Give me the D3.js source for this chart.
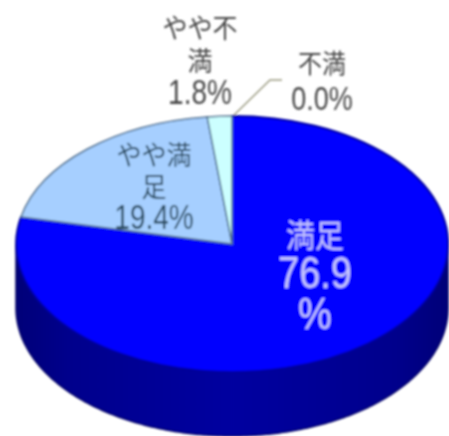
<!DOCTYPE html>
<html>
<head>
<meta charset="utf-8">
<script src="https://cdn.jsdelivr.net/npm/d3@7"></script>
<style>
  body { margin: 0; background: #fff; }
  svg { display: block; }
  text { font-family: "Liberation Sans", "Noto Sans CJK JP", sans-serif; text-anchor: middle; }
</style>
</head>
<body>
<div id="chart"></div>
<script>
// clockwise from 12 o'clock, same order as the picture
const categories = ["不満", "満足", "やや満足", "やや不満"];
const values = [0.0, 76.9, 19.4, 1.8];
const colors = ["#ffffff", "#0000ff", "#a6cfff", "#ccffff"];
const sideColors = ["#ffffff", "#00009c", "#6f8fc0", "#8fbfc0"];

// wrapped the way the picture wraps them
const labelLines = [
  ["不満", "0.0%"],
  ["満足", "76.9", "%"],
  ["やや満", "足", "19.4%"],
  ["やや不", "満", "1.8%"]
];

const w = 449;
const h = 436;
const cx = 232;
const cy = 244;
const rx = 216;
const ry = 128;
const depth = 64;

const svg = d3.select("#chart")
  .append("svg")
  .attr("width", w)
  .attr("height", h);

const defs = svg.append("defs");

// the reference is a soft, upscaled image
defs.append("filter")
  .attr("id", "soft")
  .attr("x", "-5%").attr("y", "-5%").attr("width", "110%").attr("height", "110%")
  .append("feGaussianBlur")
  .attr("stdDeviation", 1.1);

const sideGrad = defs.append("linearGradient")
  .attr("id", "sideGrad")
  .attr("x1", 0).attr("x2", 1).attr("y1", 0).attr("y2", 0);
sideGrad.append("stop").attr("offset", "0%").attr("stop-color", "#000078");
sideGrad.append("stop").attr("offset", "12%").attr("stop-color", "#00008c");
sideGrad.append("stop").attr("offset", "50%").attr("stop-color", "#0000a0");
sideGrad.append("stop").attr("offset", "88%").attr("stop-color", "#00008c");
sideGrad.append("stop").attr("offset", "100%").attr("stop-color", "#000078");

const g = svg.append("g").attr("filter", "url(#soft)");

const pie = d3.pie().sort(null).value(d => d);
const slices = pie(values);

// side wall, only the front half of the ellipse shows
const wall = d3.area()
  .x(a => cx + rx * Math.sin(a))
  .y0(a => cy - ry * Math.cos(a))
  .y1(a => cy - ry * Math.cos(a) + depth);

slices.forEach((s, i) => {
  const from = Math.max(s.startAngle, Math.PI / 2);
  const to = Math.min(s.endAngle, Math.PI * 1.5);
  if (to <= from) return;
  g.append("path")
    .attr("d", wall(d3.range(from, to, 0.01).concat([to])))
    .attr("fill", i === 1 ? "url(#sideGrad)" : sideColors[i])
    .attr("stroke", "#000068")
    .attr("stroke-width", 1.5);
});

// top face: unit arc squashed into the ellipse
const arc = d3.arc().innerRadius(0).outerRadius(1);

g.append("g")
  .attr("transform", `translate(${cx},${cy}) scale(${rx},${ry})`)
  .selectAll("path")
  .data(slices)
  .enter()
  .append("path")
  .attr("d", arc)
  .attr("fill", (d, i) => colors[i])
  .attr("stroke", (d, i) => i === 1 ? "#0000a0" : "#4f6f90")
  .attr("stroke-width", (d, i) => i === 1 ? 2 : 1.5)
  .attr("vector-effect", "non-scaling-stroke");

// leader line for 不満
g.append("path")
  .attr("d", d3.line()([[234, 115], [270, 80], [282, 80]]))
  .attr("fill", "none")
  .attr("stroke", "#9a9a80")
  .attr("stroke-width", 1.5);

// x, first baseline, line step, kana size, latin size, y stretch, colour
const labelStyle = [
  { x: 322, y: 73, step: 37, kana: 24, latin: 27, sy: 1.25, color: "#484848" },
  { x: 315, y: 247, step: 41, kana: 29, latin: 38, sy: 1.18, color: "#c4c4ff" },
  { x: 154, y: 165, step: 32, kana: 25, latin: 28, sy: 1.25, color: "#274a60" },
  { x: 200, y: 38, step: 33, kana: 25, latin: 28, sy: 1.25, color: "#484848" }
];

labelLines.forEach((lines, i) => {
  const st = labelStyle[i];
  lines.forEach((line, j) => {
    const isLatin = /^[0-9.%]+$/.test(line);
    g.append("text")
      .attr("transform", `translate(${st.x},${st.y + j * st.step}) scale(1,${isLatin ? st.sy : 1.1})`)
      .attr("fill", st.color)
      .style("font-size", (isLatin ? st.latin : st.kana) + "px")
      .text(line);
  });
});
</script>
</body>
</html>
